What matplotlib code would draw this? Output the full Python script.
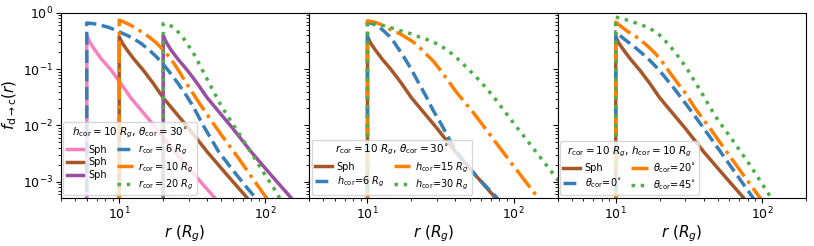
import numpy as np
import matplotlib
matplotlib.use("Agg")
import matplotlib.pyplot as plt

# ---- values (r in R_g, f_{d->c}) ----
# spherical (Sph) profiles, inner edge at 6, 10 and 20 R_g
sph6_r = [6, 6.3, 6.8, 7.5, 8.8, 10.2, 12, 15, 18, 24, 33, 45, 48]
sph6_f = [0.40, 0.30, 0.22, 0.155, 0.096, 0.057, 0.031, 0.0155, 0.0088, 0.0034, 0.0013, 0.00052, 0.00042]
sph10_r = [10, 10.5, 11.3, 12.5, 14.6, 17, 20, 25, 30, 40, 55, 75, 80]
sph10_f = [0.375, 0.29, 0.22, 0.155, 0.096, 0.057, 0.031, 0.0155, 0.0088, 0.0034, 0.0013, 0.00052, 0.00042]
sph20_r = [20, 21, 22.6, 25, 29.2, 34, 40, 50, 60, 80, 110, 150, 160]
sph20_f = [0.40, 0.30, 0.22, 0.155, 0.096, 0.057, 0.031, 0.0155, 0.0088, 0.0034, 0.0013, 0.00052, 0.00042]

# panel 1: h_cor = 10, theta = 30, varying r_cor
rcor6_r = [6, 7, 8.5, 10, 12, 14, 16, 18, 20, 22, 25, 28, 32, 38, 48, 60, 75, 88, 95]
rcor6_f = [0.66, 0.63, 0.55, 0.46, 0.37, 0.29, 0.22, 0.165, 0.122, 0.09, 0.058, 0.038, 0.022, 0.0095, 0.0034, 0.0016, 0.00078, 0.00048, 0.0004]
rcor10_r = [10, 11, 12, 13.5, 15, 16.5, 18, 20, 22, 24, 26, 28, 30, 34, 40, 50, 65, 80, 100, 110]
rcor10_f = [0.74, 0.67, 0.60, 0.50, 0.42, 0.35, 0.29, 0.22, 0.165, 0.12, 0.087, 0.063, 0.048, 0.029, 0.0155, 0.0068, 0.0027, 0.00125, 0.00055, 0.0004]
rcor20_r = [20, 21, 22.5, 24.5, 27, 29, 31.5, 34, 36, 38.5, 41, 44, 47, 50, 60, 75, 95, 115, 125, 135]
rcor20_f = [0.64, 0.63, 0.59, 0.50, 0.38, 0.29, 0.21, 0.15, 0.11, 0.08, 0.058, 0.041, 0.030, 0.022, 0.0105, 0.0043, 0.0016, 0.00075, 0.00052, 0.00038]

# panel 2: r_cor = 10, theta = 30, varying h_cor
h6_r = [10, 11, 12.2, 13, 14, 15.2, 16.4, 18, 20, 22, 25, 28, 32, 37, 45, 55, 65, 78, 85]
h6_f = [0.69, 0.63, 0.54, 0.47, 0.39, 0.30, 0.225, 0.155, 0.098, 0.062, 0.034, 0.019, 0.0105, 0.0052, 0.0024, 0.0013, 0.00082, 0.0005, 0.00038]
h15_r = [10, 11, 12, 13, 14, 15.5, 16.8, 18.5, 20.7, 23, 25.5, 28.5, 32.6, 36, 40, 47, 52.5, 65, 80, 100, 125, 147, 160]
h15_f = [0.72, 0.69, 0.64, 0.58, 0.52, 0.46, 0.42, 0.36, 0.30, 0.235, 0.18, 0.135, 0.086, 0.06, 0.041, 0.0245, 0.0175, 0.0084, 0.0041, 0.0019, 0.0009, 0.00052, 0.0004]
h30_r = [10, 11, 12.6, 14.3, 16.8, 19, 21.5, 24.5, 28, 31.7, 35.6, 39.6, 44, 48.5, 53.3, 59, 65, 71, 77, 84.5, 100, 120, 160, 200, 250]
h30_f = [0.68, 0.65, 0.60, 0.55, 0.48, 0.44, 0.39, 0.35, 0.305, 0.26, 0.212, 0.17, 0.131, 0.103, 0.08, 0.061, 0.046, 0.035, 0.027, 0.0195, 0.011, 0.006, 0.0023, 0.0011, 0.00052]

# panel 3: r_cor = 10, h_cor = 10, varying theta_cor
th0_r = [10, 11, 12, 13.5, 15, 17, 19, 21, 23, 25, 28, 31, 36, 45, 55, 70, 87, 95]
th0_f = [0.46, 0.37, 0.31, 0.245, 0.195, 0.145, 0.108, 0.08, 0.06, 0.046, 0.031, 0.022, 0.013, 0.0058, 0.0028, 0.00115, 0.00052, 0.00039]
th20_r = [10, 11, 12, 13.5, 15, 17, 19, 21, 24, 27, 30, 35, 45, 60, 75, 97, 105]
th20_f = [0.68, 0.56, 0.47, 0.39, 0.32, 0.24, 0.18, 0.13, 0.08, 0.053, 0.037, 0.02, 0.0083, 0.0029, 0.0013, 0.00052, 0.0004]
th45_r = [10, 11, 12, 13.6, 15.5, 17.7, 20, 22, 24, 26, 28.5, 31, 34, 37, 40, 43, 50, 65, 85, 114, 125]
th45_f = [0.84, 0.79, 0.74, 0.665, 0.59, 0.50, 0.40, 0.31, 0.24, 0.185, 0.135, 0.098, 0.066, 0.046, 0.033, 0.0235, 0.0125, 0.0049, 0.0018, 0.00055, 0.00043]

FLOOR = 1e-5  # value below the inner edge (drawn as the vertical jump)

# colour-blind friendly palette
C_PINK = "#f781bf"
C_BROWN = "#a65628"
C_PURPLE = "#984ea3"
C_BLUE = "#377eb8"
C_ORANGE = "#ff7f00"
C_GREEN = "#4daf4a"
LW = 2.5

LEG_KW = dict(ncol=2, loc="lower left", fontsize=7, title_fontsize=7.5,
              columnspacing=1.0, handlelength=1.7, handletextpad=0.5,
              labelspacing=0.3, borderpad=0.35, borderaxespad=0.25)


def curve(ax, r, f, color, ls, label):
    """Plot a profile with its vertical jump at the inner edge"""
    rr = [r[0]] + list(r)
    ff = [FLOOR] + list(f)
    ax.plot(rr, ff, color=color, ls=ls, lw=LW, label=label)


fig, axes = plt.subplots(1, 3, figsize=(8.14, 2.46), dpi=100, sharey=True)
fig.subplots_adjust(left=0.075, right=0.990, top=0.948, bottom=0.196, wspace=0)

ax1, ax2, ax3 = axes

# Panel 1
curve(ax1, sph6_r, sph6_f, C_PINK, "-", "Sph")
curve(ax1, sph10_r, sph10_f, C_BROWN, "-", "Sph")
curve(ax1, sph20_r, sph20_f, C_PURPLE, "-", "Sph")
curve(ax1, rcor6_r, rcor6_f, C_BLUE, "--", r"$r_{\rm cor}=6\ R_g$")
curve(ax1, rcor10_r, rcor10_f, C_ORANGE, "-.", r"$r_{\rm cor}=10\ R_g$")
curve(ax1, rcor20_r, rcor20_f, C_GREEN, ":", r"$r_{\rm cor}=20\ R_g$")
ax1.legend(title=r"$h_{\rm cor}=10\ R_g$, $\theta_{\rm cor}=30^{\circ}$", **LEG_KW)

# Panel 2
curve(ax2, sph10_r, sph10_f, C_BROWN, "-", "Sph")
curve(ax2, h6_r, h6_f, C_BLUE, "--", r"$h_{\rm cor}$=6 $R_g$")
curve(ax2, h15_r, h15_f, C_ORANGE, "-.", r"$h_{\rm cor}$=15 $R_g$")
curve(ax2, h30_r, h30_f, C_GREEN, ":", r"$h_{\rm cor}$=30 $R_g$")
ax2.legend(title=r"$r_{\rm cor}=10\ R_g$, $\theta_{\rm cor}=30^{\circ}$", **LEG_KW)

# Panel 3
curve(ax3, sph10_r, sph10_f, C_BROWN, "-", "Sph")
curve(ax3, th0_r, th0_f, C_BLUE, "--", r"$\theta_{\rm cor}$=0$^{\circ}$")
curve(ax3, th20_r, th20_f, C_ORANGE, "-.", r"$\theta_{\rm cor}$=20$^{\circ}$")
curve(ax3, th45_r, th45_f, C_GREEN, ":", r"$\theta_{\rm cor}$=45$^{\circ}$")
ax3.legend(title=r"$r_{\rm cor}=10\ R_g$, $h_{\rm cor}=10\ R_g$", **LEG_KW)

for ax in axes:
    ax.set_xscale("log")
    ax.set_yscale("log")
    ax.set_xlim(4, 200)
    ax.set_ylim(5.2e-4, 1)
    ax.set_xlabel(r"$r\ (R_g)$", fontsize=11, labelpad=1)
    ax.tick_params(which="major", labelsize=9, length=3.5, pad=2)
    ax.tick_params(which="minor", length=2)

ax1.set_ylabel(r"$f_{\rm d\rightarrow c}(r)$", fontsize=11)
ax1.yaxis.set_label_coords(-0.17, 0.5)

plt.savefig("out.png", dpi=100)
